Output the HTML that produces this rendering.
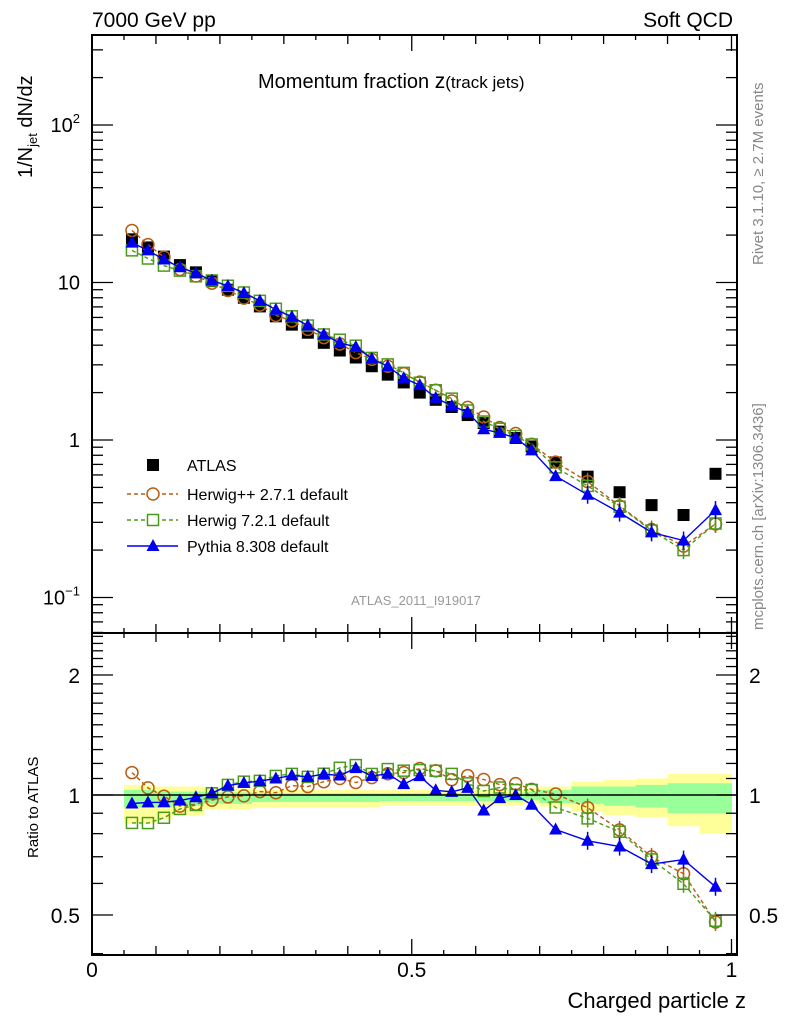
<!DOCTYPE html>
<html><head><meta charset="utf-8"><style>
html,body{margin:0;padding:0;background:#fff;}
svg{display:block;font-family:"Liberation Sans",sans-serif;}
</style></head><body>
<svg id="chart" width="786" height="1024" viewBox="0 0 786 1024" xmlns="http://www.w3.org/2000/svg">
<g id="bands"></g>
<g id="marks"></g>
<g id="axes"></g>
<text x="92" y="27" font-size="21">7000 GeV pp</text>
<text x="733" y="27" font-size="21" text-anchor="end">Soft QCD</text>
<text x="258" y="88" font-size="20">Momentum fraction <tspan font-size="21">z</tspan><tspan font-size="17">(track jets)</tspan></text>
<text transform="translate(32,178) rotate(-90)" font-size="20">1/N<tspan font-size="13" dy="5">jet</tspan><tspan dy="-5"> dN/dz</tspan></text>
<text transform="translate(38,858) rotate(-90)" font-size="15">Ratio to ATLAS</text>
<text x="746" y="1008" font-size="22" text-anchor="end">Charged particle z</text>
<text x="416" y="605" font-size="13" fill="#999" text-anchor="middle">ATLAS_2011_I919017</text>
<text transform="translate(763,265) rotate(-90)" font-size="15" fill="#888">Rivet 3.1.10, ≥ 2.7M events</text>
<text transform="translate(763,630) rotate(-90)" font-size="15" fill="#888">mcplots.cern.ch [arXiv:1306.3436]</text>
<g id="legend"></g>
</svg>
<script>
const binLo = [0.05,0.075,0.1,0.125,0.15,0.175,0.2,0.225,0.25,0.275,0.3,0.325,0.35,0.375,0.4,0.425,0.45,0.475,0.5,0.525,0.55,0.575,0.6,0.625,0.65,0.675,0.7,0.75,0.8,0.85,0.9,0.95];
const binHi = [0.075,0.1,0.125,0.15,0.175,0.2,0.225,0.25,0.275,0.3,0.325,0.35,0.375,0.4,0.425,0.45,0.475,0.5,0.525,0.55,0.575,0.6,0.625,0.65,0.675,0.7,0.75,0.8,0.85,0.9,0.95,1.0];
const atlas = [18.8,16.7,14.6,12.9,11.6,10.2,9.0,8.0,7.05,6.1,5.4,4.8,4.14,3.7,3.34,2.94,2.6,2.32,2.0,1.8,1.62,1.44,1.28,1.13,1.03,0.91,0.72,0.585,0.466,0.386,0.334,0.61];
const herwigpp = [21.4,17.4,14.5,12.1,11.0,9.9,8.9,7.96,7.19,6.18,5.70,5.04,4.47,4.07,3.59,3.25,2.94,2.64,2.33,2.07,1.77,1.61,1.40,1.20,1.10,0.94,0.724,0.544,0.381,0.270,0.212,0.293];
const herwig7 = [16.0,14.2,12.8,11.9,10.95,10.3,9.54,8.64,7.65,6.81,6.10,5.33,4.68,4.33,3.97,3.32,3.02,2.67,2.31,2.07,1.83,1.54,1.31,1.18,1.06,0.937,0.67,0.511,0.377,0.266,0.200,0.295];
const pythia = [17.9,16.0,14.0,12.5,11.45,10.3,9.5,8.58,7.64,6.71,6.05,5.33,4.67,4.14,3.90,3.28,2.94,2.47,2.23,1.85,1.65,1.50,1.17,1.11,1.03,0.86,0.59,0.449,0.346,0.259,0.230,0.359];
const bandYellowHi = [1.06,1.06,1.05,1.05,1.05,1.04,1.04,1.04,1.03,1.03,1.03,1.03,1.03,1.03,1.03,1.03,1.03,1.03,1.03,1.03,1.03,1.03,1.03,1.03,1.03,1.04,1.05,1.08,1.09,1.10,1.13,1.13];
const bandYellowLo = [0.85,0.85,0.87,0.89,0.89,0.92,0.92,0.92,0.93,0.93,0.93,0.93,0.93,0.93,0.93,0.93,0.94,0.94,0.94,0.94,0.94,0.94,0.94,0.94,0.94,0.95,0.935,0.91,0.89,0.88,0.835,0.80];
const bandGreenHi = [1.03,1.03,1.02,1.02,1.02,1.015,1.015,1.015,1.01,1.01,1.01,1.01,1.01,1.01,1.01,1.01,1.01,1.01,1.01,1.01,1.01,1.01,1.01,1.01,1.01,1.02,1.03,1.05,1.05,1.06,1.07,1.07];
const bandGreenLo = [0.93,0.93,0.93,0.94,0.94,0.95,0.95,0.95,0.96,0.96,0.96,0.96,0.96,0.96,0.96,0.96,0.965,0.965,0.965,0.965,0.965,0.965,0.965,0.965,0.965,0.97,0.955,0.95,0.94,0.93,0.90,0.90];
const mainTickBase = ["10","1","10","10"];
const mainTickExp = ["\u22121","","","2"];
const ratioTickLabels = ["0.5","1","2"];
const xTickLabels = ["0","0.5","1"];

const NS="http://www.w3.org/2000/svg";
const L=92,R=737,T1=35,B1=633,T2=633,B2=955;
const X=z=>92+z*639.5;
const Y=v=>440-157.5*Math.log10(v);
const YR=r=>795-120*Math.log2(r);
function mk(tag,attrs,parent){const e=document.createElementNS(NS,tag);for(const k in attrs)e.setAttribute(k,attrs[k]);parent.appendChild(e);return e;}
const axes=document.getElementById('axes'),marks=document.getElementById('marks'),bands=document.getElementById('bands'),legend=document.getElementById('legend');
const C_H='#b85c12',C_G='#4c9a1c',C_P='#0000ee';

for(let i=0;i<binLo.length;i++){
  let r=mk('rect',{x:X(binLo[i]),y:YR(bandYellowHi[i]),width:X(binHi[i])-X(binLo[i])+0.5,height:YR(bandYellowLo[i])-YR(bandYellowHi[i]),fill:'#ffff99'},bands);
  
  
  let g=mk('rect',{x:X(binLo[i]),y:YR(bandGreenHi[i]),width:X(binHi[i])-X(binLo[i])+0.5,height:YR(bandGreenLo[i])-YR(bandGreenHi[i]),fill:'#99ff99'},bands);
  
  
}
let rl=mk('line',{x1:L,x2:R,y1:YR(1),y2:YR(1),stroke:'#000','stroke-width':1.5},axes);



const mid=i=>(binLo[i]+binHi[i])/2;
function series(vals,fy,color,dash,shape,name){
  const g=mk('g',{},marks);
  
  
  if(color){
    const pts=vals.map((v,i)=>X(mid(i)).toFixed(1)+','+fy(v,i).toFixed(1)).join(' ');
    mk('polyline',{points:pts,fill:'none',stroke:color,'stroke-width':1.4,'stroke-dasharray':dash||'none'},g);
  }
  vals.forEach((v,i)=>{
    const x=X(mid(i)),y=fy(v,i);let m;
    if(i>=27&&color){mk('line',{x1:x,x2:x,y1:y-9,y2:y+9,stroke:color,'stroke-width':1.5},g);}
    if(shape==='sq') m=mk('rect',{x:x-6,y:y-6,width:12,height:12,fill:'#000'},g);
    if(shape==='circ') m=mk('circle',{cx:x,cy:y,r:6,fill:'none',stroke:color,'stroke-width':1.5},g);
    if(shape==='osq') m=mk('rect',{x:x-5.5,y:y-5.5,width:11,height:11,fill:'none',stroke:color,'stroke-width':1.5},g);
    if(shape==='tri') m=mk('polygon',{points:`${x},${y-7} ${x-6.5},${y+5} ${x+6.5},${y+5}`,fill:color},g);
    
    
  });
}
series(atlas,v=>Y(v),null,null,'sq','atlas-data');
series(herwigpp,v=>Y(v),C_H,'4,3','circ','herwigpp-main');
series(herwig7,v=>Y(v),C_G,'4,3','osq','herwig7-main');
series(pythia,v=>Y(v),C_P,null,'tri','pythia-main');
series(herwigpp,(v,i)=>YR(v/atlas[i]),C_H,'4,3','circ','herwigpp-ratio');
series(herwig7,(v,i)=>YR(v/atlas[i]),C_G,'4,3','osq','herwig7-ratio');
series(pythia,(v,i)=>YR(v/atlas[i]),C_P,null,'tri','pythia-ratio');

[[T1,B1],[T2,B2]].forEach(([t,b],k)=>{
  const f=mk('rect',{x:L,y:t,width:R-L,height:b-t,fill:'none',stroke:'#000','stroke-width':2},axes);
  
  
  for(let j=0;j<=20;j++){
    const z=j*0.05,x=X(z);const len=(j%10===0)?16:(j%2===0?9:5);
    mk('line',{x1:x,x2:x,y1:t,y2:t+len,stroke:'#000','stroke-width':1.3},axes);
    mk('line',{x1:x,x2:x,y1:b,y2:b-len,stroke:'#000','stroke-width':1.3},axes);
  }
});
for(let e=-2;e<=2;e++)for(let m=1;m<=9;m++){
  const v=m*Math.pow(10,e),y=Y(v);if(y<T1||y>B1)continue;
  const len=m===1?21:11;
  mk('line',{x1:L,x2:L+len,y1:y,y2:y,stroke:'#000','stroke-width':1.3},axes);
  mk('line',{x1:R,x2:R-len,y1:y,y2:y,stroke:'#000','stroke-width':1.3},axes);
}
[0.1,1,10,100].forEach((v,i)=>{
  const t=mk('text',{x:80,y:Y(v)+7,'font-size':20,'text-anchor':'end'},axes);
  
  
  const b=mk('tspan',{},t);b.textContent=mainTickBase[i];
  if(mainTickExp[i]){const s=mk('tspan',{'font-size':13,dy:-9},t);s.textContent=mainTickExp[i];}
});
for(let k=3;k<=25;k++){
  const v=k/10,y=YR(v);if(y<T2||y>B2)continue;
  const major=(k===5||k===10||k===20);const len=major?21:11;
  mk('line',{x1:L,x2:L+len,y1:y,y2:y,stroke:'#000','stroke-width':1.3},axes);
  mk('line',{x1:R,x2:R-len,y1:y,y2:y,stroke:'#000','stroke-width':1.3},axes);
}
[0.5,1,2].forEach((v,i)=>{
  const t=mk('text',{x:80,y:YR(v)+8,'font-size':21,'text-anchor':'end'},axes);
  t.textContent=ratioTickLabels[i];
  
  
  const t2=mk('text',{x:749,y:YR(v)+8,'font-size':21},axes);
  t2.textContent=ratioTickLabels[i];
  
  
});
[0,0.5,1].forEach((z,i)=>{
  const t=mk('text',{x:X(z),y:977,'font-size':21,'text-anchor':'middle'},axes);
  t.textContent=xTickLabels[i];
  
  
});
const entries=[['ATLAS',null,'sq',465],['Herwig++ 2.7.1 default',C_H,'circ',494],['Herwig 7.2.1 default',C_G,'osq',520],['Pythia 8.308 default',C_P,'tri',546]];
entries.forEach(([lab,col,sh,y])=>{
  const g=mk('g',{},legend);
  
  
  const x=153;
  if(col) mk('line',{x1:127,x2:178,y1:y,y2:y,stroke:col,'stroke-width':1.4,'stroke-dasharray':sh==='tri'?'none':'4,3'},g);
  if(sh==='sq') mk('rect',{x:x-6,y:y-6,width:12,height:12,fill:'#000'},g);
  if(sh==='circ') mk('circle',{cx:x,cy:y,r:6,fill:'#fff',stroke:col,'stroke-width':1.5},g);
  if(sh==='osq') mk('rect',{x:x-5.5,y:y-5.5,width:11,height:11,fill:'#fff',stroke:col,'stroke-width':1.5},g);
  if(sh==='tri') mk('polygon',{points:`${x},${y-7} ${x-6.5},${y+5} ${x+6.5},${y+5}`,fill:col},g);
  const t=mk('text',{x:187,y:y+6,'font-size':16},g);
  t.textContent=lab;
});
</script>
</body></html>
